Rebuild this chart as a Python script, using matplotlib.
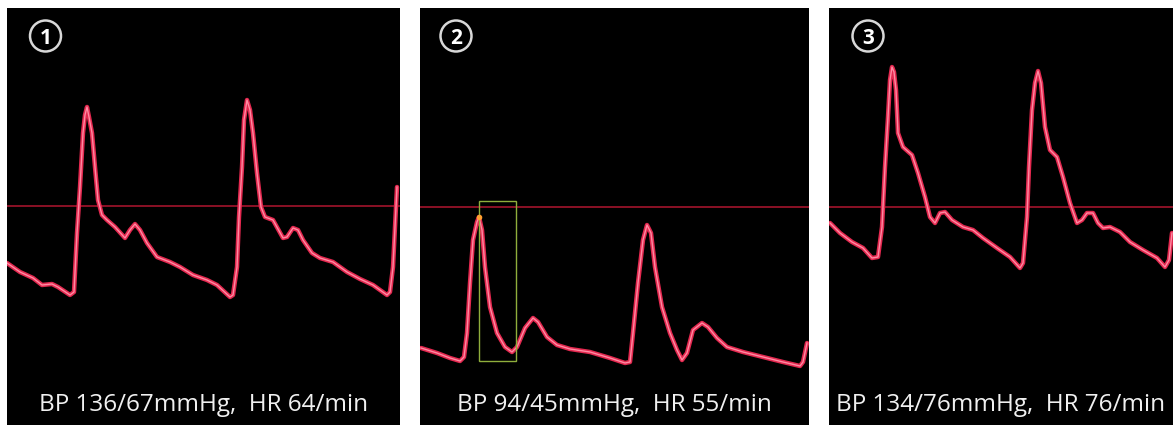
import matplotlib.pyplot as plt
from matplotlib.patches import Circle, Rectangle

# figure size in pixels
fig_w, fig_h = 1176, 425

# panel boxes in pixels: left, width (all start at bottom, height 417)
panel_left = [7, 420, 829]
panel_width = [393, 389, 344]
panel_height = 417

labels = ["BP 136/67mmHg,  HR 64/min",
          "BP 94/45mmHg,  HR 55/min",
          "BP 134/76mmHg,  HR 76/min"]
numbers = ["1", "2", "3"]
ref_level = [219, 218, 218]

# waveforms traced off the monitor (x: px from panel left, y: px above panel bottom)
x1 = [0, 13, 26, 35, 45, 51, 63, 67, 70, 73, 76, 78, 80, 82, 85, 88, 91, 95,
      100, 108, 118, 123, 128, 133, 140, 150, 163, 173, 186, 200, 210, 223,
      226, 230, 232, 235, 237, 240, 243, 246, 250, 254, 258, 266, 276, 280,
      286, 291, 296, 305, 313, 326, 340, 353, 366, 380, 383, 386, 390]
y1 = [162, 153, 147, 140, 141, 138, 130, 133, 192, 238, 292, 310, 318, 308,
      292, 258, 225, 210, 205, 198, 187, 195, 201, 195, 182, 168, 163, 158,
      150, 145, 140, 128, 130, 158, 208, 258, 305, 325, 315, 292, 252, 218,
      208, 205, 187, 188, 197, 195, 185, 172, 167, 163, 153, 146, 140, 130,
      133, 158, 238]

x2 = [1, 17, 30, 40, 44, 47, 50, 53, 57, 59, 62, 65, 70, 77, 85, 92, 97, 105,
      113, 118, 127, 137, 150, 170, 190, 205, 210, 213, 218, 223, 227, 231,
      235, 242, 250, 257, 262, 267, 273, 282, 288, 297, 307, 323, 343, 363,
      380, 383, 387]
y2 = [77, 72, 67, 64, 68, 92, 142, 185, 203, 208, 195, 158, 118, 92, 78, 73,
      78, 97, 107, 103, 88, 80, 76, 73, 67, 62, 63, 92, 142, 185, 200, 192,
      158, 118, 92, 75, 65, 72, 95, 102, 98, 87, 78, 73, 68, 63, 59, 63, 82]

x3 = [1, 11, 23, 34, 43, 49, 53, 56, 59, 61, 63, 65, 67, 69, 74, 83, 89, 96,
      101, 106, 111, 116, 123, 134, 144, 154, 168, 181, 191, 194, 198, 200,
      203, 206, 209, 212, 216, 221, 228, 234, 241, 248, 253, 258, 264, 269,
      274, 281, 291, 301, 314, 328, 336, 340, 343]
y3 = [202, 192, 183, 177, 167, 168, 198, 258, 308, 345, 358, 353, 335, 292,
      278, 270, 252, 228, 208, 202, 212, 213, 205, 198, 195, 187, 177, 168,
      157, 162, 208, 258, 315, 342, 354, 342, 298, 275, 268, 248, 222, 202,
      205, 212, 212, 202, 197, 198, 193, 183, 175, 167, 158, 165, 192]

waves = [(x1, y1), (x2, y2), (x3, y3)]

# highlighted window on panel 2
box_x = [59, 96]
box_y = [64, 224]

plt.rcParams['font.family'] = ['Open Sans', 'DejaVu Sans']

fig = plt.figure(figsize=(fig_w / 100, fig_h / 100), dpi=100)
fig.patch.set_facecolor("white")

num_x = [38.5, 36, 39]

for i in range(3):
    ax = fig.add_axes([panel_left[i] / fig_w, 0,
                       panel_width[i] / fig_w, panel_height / fig_h])
    ax.set_facecolor("black")
    ax.set_xlim(0, panel_width[i])
    ax.set_ylim(0, panel_height)
    ax.set_xticks([])
    ax.set_yticks([])
    for s in ax.spines.values():
        s.set_visible(False)

    ax.axhline(ref_level[i], color="#a3142c", lw=1.2, zorder=1)

    xs, ys = waves[i]
    ax.plot(xs, ys, color="#e3284f", lw=3.2, solid_joinstyle="round",
            solid_capstyle="round", zorder=2)
    ax.plot(xs, ys, color="#ff8aa2", lw=1.0, solid_joinstyle="round",
            zorder=3)

    # circled panel number
    cy = panel_height - 28
    ax.add_patch(Circle((num_x[i], cy), 15.5, fill=False,
                        ec="#d8d8d8", lw=1.8, zorder=4))
    ax.text(num_x[i], cy, numbers[i], color="white", fontsize=15,
            fontweight="bold", ha="center", va="center_baseline", zorder=5)

    ax.text(panel_width[i] / 2, 20, labels[i], color="#f0f0f0", fontsize=17.5,
            ha="center", va="center", zorder=5)

    if i == 1:
        ax.add_patch(Rectangle((box_x[0], box_y[0]), box_x[1] - box_x[0],
                               box_y[1] - box_y[0], fill=False,
                               ec="#8fae3c", lw=1.0, zorder=4))
        ax.plot([x2[9]], [y2[9]], "o", color="#ffa030", ms=3, zorder=5)

fig.savefig("out.png", dpi=100, facecolor="white")
